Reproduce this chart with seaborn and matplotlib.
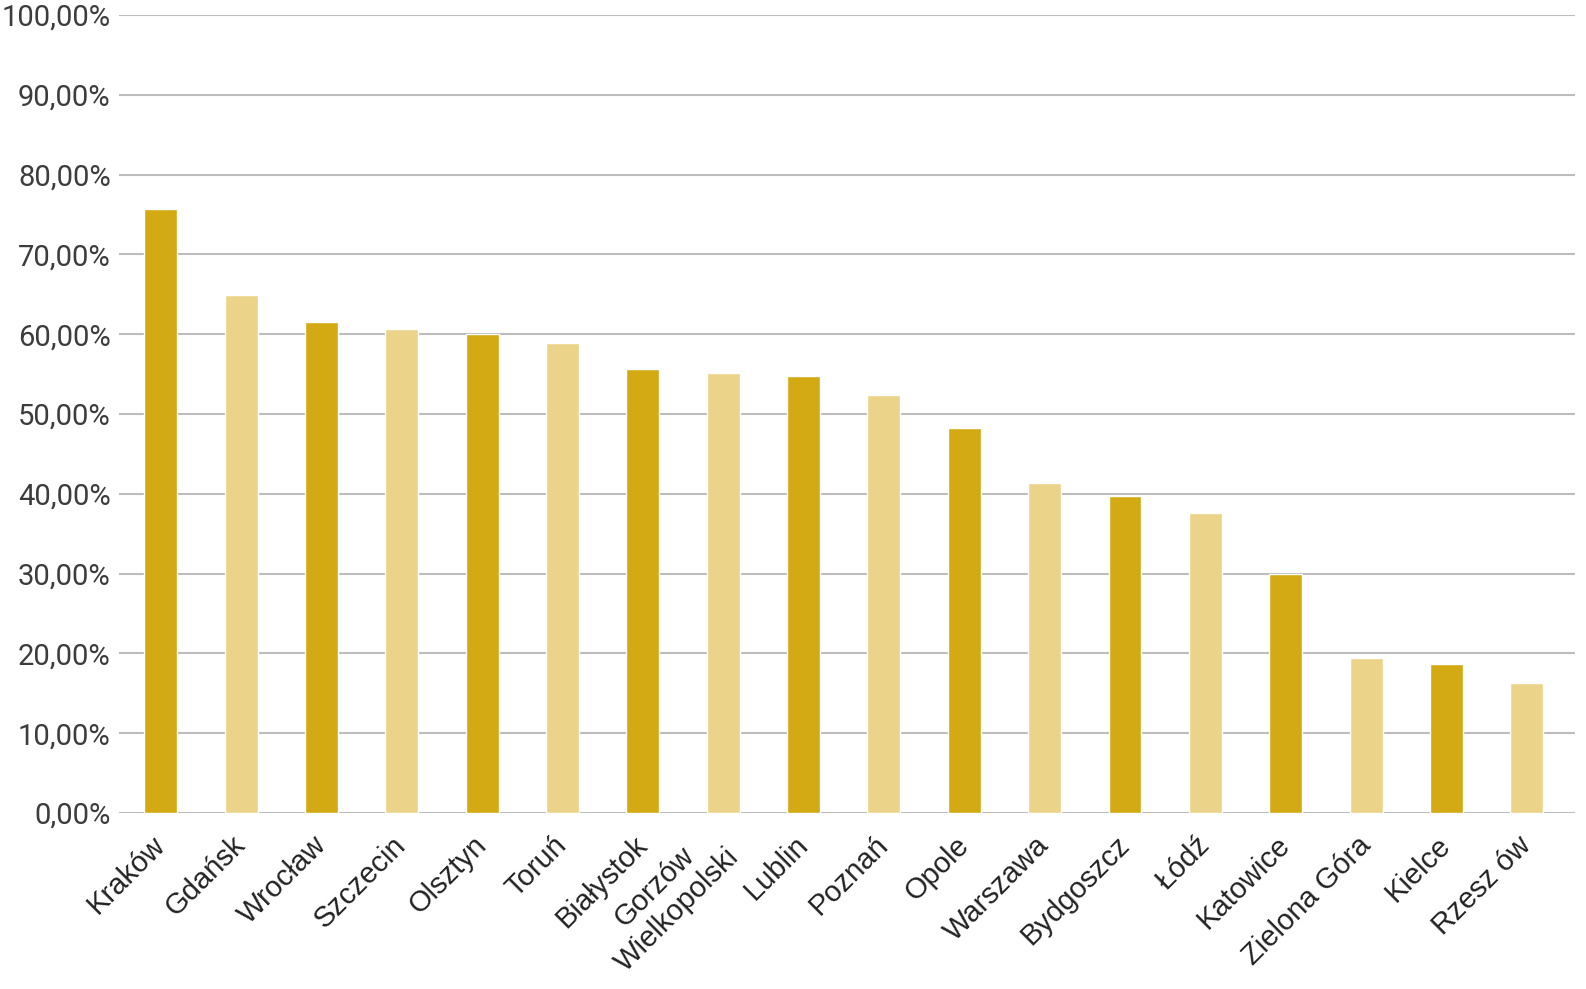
import pandas as pd
import matplotlib.pyplot as plt
import seaborn as sns

# --- Data ---
cities = ["Kraków", "Gdańsk", "Wrocław", "Szczecin", "Olsztyn", "Toruń",
          "Białystok", "Gorzów\nWielkopolski", "Lublin", "Poznań", "Opole",
          "Warszawa", "Bydgoszcz", "Łódź", "Katowice", "Zielona Góra",
          "Kielce", "Rzesz ów"]
shares = [75.7, 64.9, 61.5, 60.7, 60.0, 58.9, 55.7, 55.2, 54.7, 52.4, 48.2,
          41.3, 39.7, 37.6, 30.0, 19.4, 18.7, 16.3]
y_ticks = [0, 10, 20, 30, 40, 50, 60, 70, 80, 90, 100]

DARK = "#D4AA14"
LIGHT = "#EBD48A"

df = pd.DataFrame({"city": cities, "share": shares})
palette = {c: (DARK if i % 2 == 0 else LIGHT) for i, c in enumerate(cities)}

sns.set_style("white")
fig = plt.figure(figsize=(15.86, 9.89), dpi=100)
ax = fig.add_axes([119 / 1586, 1 - 813 / 989, (1575 - 119) / 1586, (813 - 15) / 989])

sns.barplot(data=df, x="city", y="share", hue="city", palette=palette,
            saturation=1, width=0.41, legend=False, ax=ax, zorder=3)

ax.set_ylim(0, 100)
ax.set_xlim(-0.52, 17.6)
ax.set_yticks(y_ticks)
ax.set_yticklabels([f"{v:.2f}".replace(".", ",") + "%" for v in y_ticks],
                   family="Roboto", fontweight="normal", fontsize=21,
                   color="#3c3c3c")
ax.grid(axis="y", color="#BDBDBD", linewidth=1.5, zorder=0)
ax.set_axisbelow(True)
for s in ax.spines.values():
    s.set_visible(False)

ax.tick_params(axis="y", length=0, pad=6)
ax.tick_params(axis="x", length=0, pad=20)

ax.set_xticks(range(len(cities)))
ax.set_xticklabels(cities, rotation=45, ha="right", va="center",
                   rotation_mode="anchor", fontsize=21,
                   family="Liberation Sans", color="#222222",
                   multialignment="center")
ax.set_xlabel("")
ax.set_ylabel("")

plt.savefig("out.png", dpi=100)
